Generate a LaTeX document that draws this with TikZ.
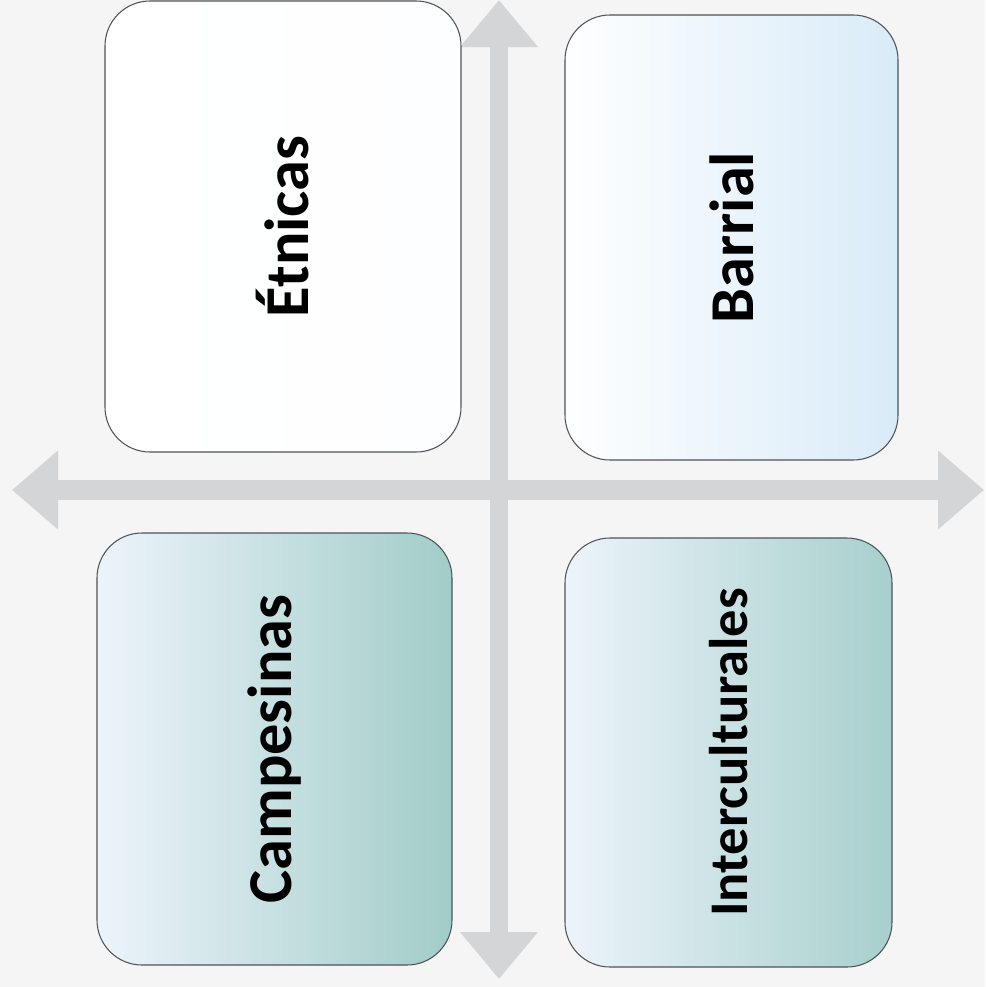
\documentclass[tikz,border=0pt]{standalone}
\usepackage{fontspec}
\setmainfont{Carlito}
\usetikzlibrary{arrows.meta}

\definecolor{paper}{RGB}{245,245,246}
\definecolor{axisgray}{RGB}{211,213,214}
\definecolor{boxline}{RGB}{80,82,86}
\definecolor{paleblue}{RGB}{217,235,248}
\definecolor{lightblue}{RGB}{236,244,251}
\definecolor{seagreen}{RGB}{162,204,200}

\begin{document}
\begin{tikzpicture}[x=0.2mm,y=-0.2mm]
                \fill[paper] (0,0) rectangle (985,987);
                \useasboundingbox (0,0) rectangle (985,987);
                \coordinate (N) at (499,0);
                \coordinate (S) at (499,979);
                \coordinate (W) at (12,490);
                \coordinate (E) at (984,490);
                \begin{scope}[every edge/.style={draw=axisgray}]
                    \draw (N) edge [line width=3.6mm, {Triangle[length=9.4mm,width=15mm]}-{Triangle[length=9.4mm,width=15mm]}] (S);
                    \draw (W) edge [line width=4mm, {Triangle[length=9.2mm,width=15.2mm]}-{Triangle[length=9.2mm,width=15.2mm]}] (E);
                \end{scope}
                \begin{scope}[every node/.style={draw=boxline, line width=0.6pt, rounded corners=9mm, inner sep=0pt, font=\bfseries\fontsize{35.5}{36}\selectfont}]
                    \node (ET) [minimum width=71.2mm, minimum height=90.2mm, left color=white, right color=white!95!paleblue] at (283,226.5) {\rotatebox{90}{Étnicas}};
                    \node (BA) [minimum width=66.6mm, minimum height=89mm, left color=white!97!paleblue, right color=paleblue] at (731.5,237.5) {\rotatebox{90}{Barrial}};
                    \node (CA) [minimum width=71mm, minimum height=86.4mm, left color=lightblue, middle color=paleblue, right color=seagreen] at (274.5,749) {\rotatebox{90}{Campesinas}};
                    \node (IN) [minimum width=65.4mm, minimum height=85.8mm, left color=lightblue, middle color=paleblue!85!seagreen, right color=seagreen!90!paleblue, font=\bfseries\fontsize{31}{31}\selectfont] at (728.5,752.5) {\rotatebox{90}{Interculturales}};
                \end{scope}
            \end{tikzpicture}
\end{document}
